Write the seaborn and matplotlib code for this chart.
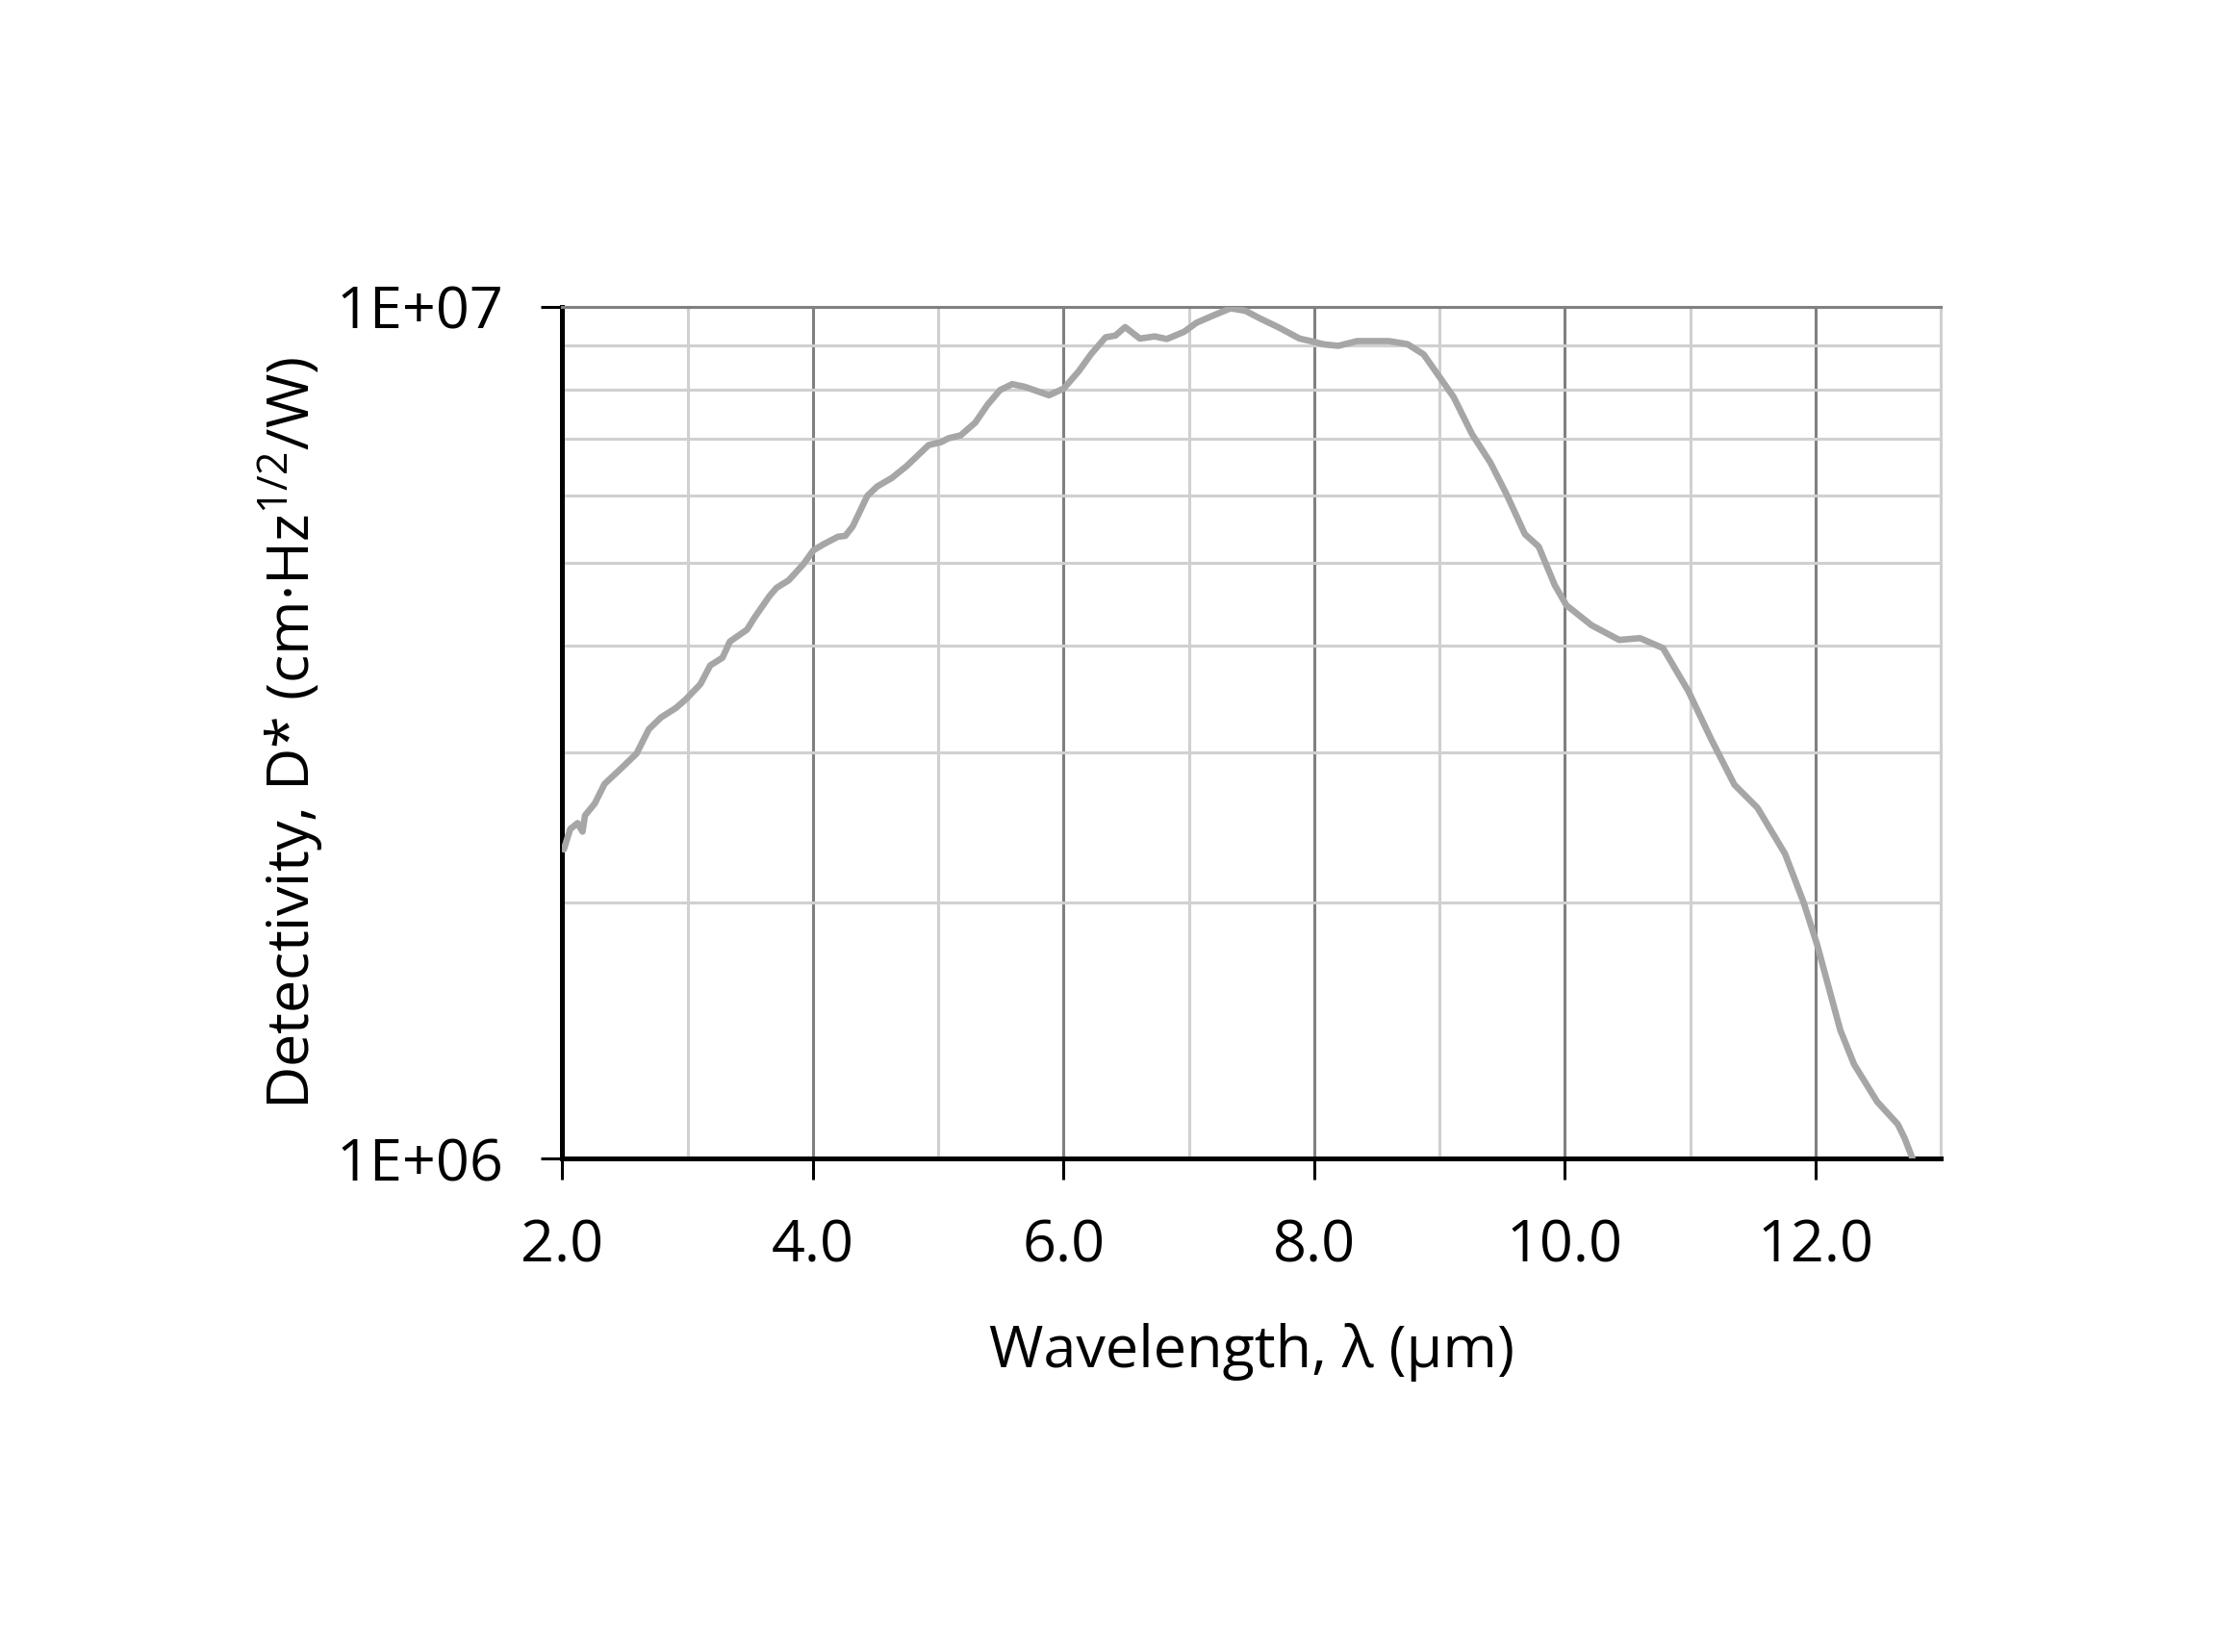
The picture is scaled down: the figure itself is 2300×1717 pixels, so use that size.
import matplotlib
matplotlib.use("Agg")
import matplotlib.pyplot as plt
import matplotlib.ticker as mticker
import seaborn as sns
import numpy as np
import pandas as pd

# wavelength (um) and detectivity D* (cm Hz^1/2 / W)
wavelength = [2.012, 2.063, 2.122, 2.161, 2.181, 2.259, 2.337, 2.475, 2.592, 2.690,
              2.788, 2.906, 2.984, 3.102, 3.180, 3.278, 3.337, 3.474, 3.533, 3.651,
              3.709, 3.807, 3.925, 4.003, 4.082, 4.199, 4.258, 4.317, 4.434, 4.513,
              4.630, 4.748, 4.924, 5.022, 5.081, 5.179, 5.296, 5.394, 5.492, 5.590,
              5.688, 5.884, 6.002, 6.120, 6.218, 6.335, 6.413, 6.491, 6.609, 6.727,
              6.824, 6.962, 7.060, 7.217, 7.334, 7.452, 7.569, 7.716, 7.883, 7.973,
              8.078, 8.193, 8.341, 8.597, 8.744, 8.873, 9.002, 9.112, 9.259, 9.406,
              9.534, 9.681, 9.791, 9.920, 10.012, 10.214, 10.434, 10.600, 10.783, 10.985,
              11.169, 11.353, 11.537, 11.757, 11.904, 12.014, 12.198, 12.308, 12.492, 12.657,
              12.712, 12.775]
detectivity = [2.307e6, 2.438e6, 2.477e6, 2.421e6, 2.529e6, 2.612e6, 2.754e6, 2.877e6, 2.989e6, 3.192e6,
               3.296e6, 3.381e6, 3.459e6, 3.606e6, 3.793e6, 3.873e6, 4.046e6, 4.178e6, 4.315e6, 4.571e6,
               4.677e6, 4.775e6, 4.989e6, 5.176e6, 5.260e6, 5.370e6, 5.383e6, 5.521e6, 5.998e6, 6.152e6,
               6.295e6, 6.501e6, 6.880e6, 6.934e6, 7.006e6, 7.063e6, 7.311e6, 7.674e6, 7.980e6, 8.110e6,
               8.054e6, 7.870e6, 8.017e6, 8.395e6, 8.790e6, 9.204e6, 9.247e6, 9.462e6, 9.173e6, 9.226e6,
               9.162e6, 9.343e6, 9.572e6, 9.795e6, 9.954e6, 9.886e6, 9.683e6, 9.454e6, 9.173e6, 9.110e6,
               9.030e6, 8.995e6, 9.110e6, 9.110e6, 9.036e6, 8.790e6, 8.260e6, 7.834e6, 7.087e6, 6.561e6,
               6.026e6, 5.408e6, 5.230e6, 4.710e6, 4.463e6, 4.227e6, 4.064e6, 4.083e6, 3.975e6, 3.540e6,
               3.105e6, 2.748e6, 2.582e6, 2.280e6, 2.002e6, 1.782e6, 1.416e6, 1.291e6, 1.167e6, 1.098e6,
               1.057e6, 1.000e6]

x_ticks = [2, 4, 6, 8, 10, 12]
x_tick_labels = ["2.0", "4.0", "6.0", "8.0", "10.0", "12.0"]
y_ticks = [1e6, 1e7]
y_tick_labels = ["1E+06", "1E+07"]

sns.set_style("white")
plt.rcParams["font.family"] = ["Open Sans", "DejaVu Sans"]
plt.rcParams["mathtext.fontset"] = "custom"
plt.rcParams["mathtext.rm"] = "Open Sans"
plt.rcParams["mathtext.it"] = "Open Sans:italic"

df = pd.DataFrame({"wavelength": wavelength, "detectivity": detectivity})

fig = plt.figure(figsize=(11.5, 8.585), dpi=200)
ax = fig.add_axes([0.2541, 0.2985, 0.877 - 0.2541, 0.8144 - 0.2985])

sns.lineplot(data=df, x="wavelength", y="detectivity", ax=ax,
             color="#A6A6A6", linewidth=2.4, zorder=5, clip_on=True)

ax.set_yscale("log")
ax.set_xlim(2, 13)
ax.set_ylim(1e6, 1e7)

ax.set_xticks(x_ticks)
ax.set_xticklabels(x_tick_labels)
ax.set_xticks(np.arange(3, 14, 2), minor=True)
ax.yaxis.set_major_locator(mticker.FixedLocator(y_ticks))
ax.yaxis.set_major_formatter(mticker.FixedFormatter(y_tick_labels))
ax.yaxis.set_minor_locator(mticker.FixedLocator([k * 1e6 for k in range(2, 10)]))
ax.yaxis.set_minor_formatter(mticker.NullFormatter())

ax.grid(which="major", color="#808080", linewidth=1.1, zorder=0)
ax.grid(which="minor", color="#D0D0D0", linewidth=1.1, zorder=0)
ax.set_axisbelow(True)

ax.tick_params(axis="both", which="major", direction="out", length=7.9, width=1.1,
               colors="black", labelsize=22, pad=14,
               bottom=True, left=True)
ax.tick_params(axis="both", which="minor", length=0)

for side in ["left", "bottom"]:
    ax.spines[side].set_color("black")
    ax.spines[side].set_linewidth(1.8)
ax.spines["top"].set_color("#808080")
ax.spines["top"].set_linewidth(1.1)
ax.spines["right"].set_color("#D0D0D0")
ax.spines["right"].set_linewidth(1.1)

ax.set_xlabel("Wavelength, λ (μm)", fontsize=22, labelpad=18, color="black")
ax.set_ylabel("Detectivity, D* (cm·Hz$^{\\mathrm{1/2}}$/W)", fontsize=22, labelpad=4,
              color="black")

fig.savefig("out.png", dpi=200)
